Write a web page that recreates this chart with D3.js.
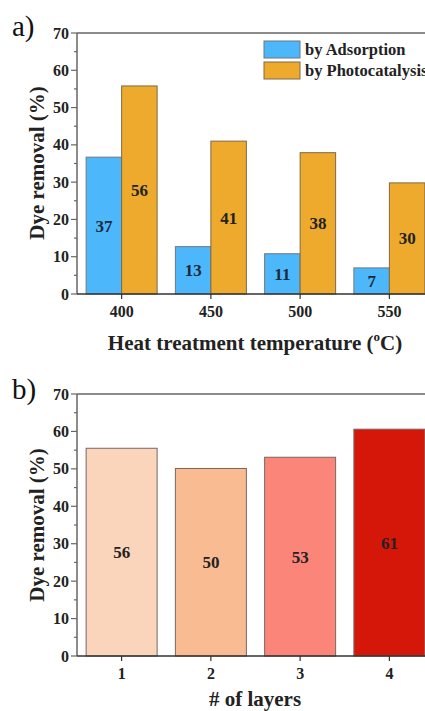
<!DOCTYPE html>
<html><head><meta charset="utf-8">
<script src="https://cdn.jsdelivr.net/npm/d3@7"></script>
<style>body{margin:0;background:#fff}svg{display:block}</style>
</head><body>
<svg id="c" width="425" height="711"></svg>
<script>
const temps = [400, 450, 500, 550];
const adsorption = [36.7, 12.7, 10.8, 7.0];
const photocatalysis = [55.8, 41.0, 37.9, 29.8];
const adsLabels = ["37", "13", "11", "7"];
const photoLabels = ["56", "41", "38", "30"];
const layers = [1, 2, 3, 4];
const layerRemoval = [55.5, 50.1, 53.1, 60.6];
const layerLabels = ["56", "50", "53", "61"];
const layerColors = ["#fbd5bb", "#f9bb91", "#fa8578", "#d5170a"];
const yTicks = [0, 10, 20, 30, 40, 50, 60, 70];
const seriesNames = ["by Adsorption", "by Photocatalysis"];
const seriesColors = ["#4cb8fb", "#eeaa2c"];

const svg = d3.select("#c");
const axisCol = "#666";

function txt(sel) {
  return sel.style("font-family", "Liberation Serif");
}

function yAxis(g, y, x0) {
  const minor = d3.range(0, 71, 5);
  g.selectAll(".mn").data(minor).join("line")
    .attr("x1", x0).attr("x2", d => x0 - (d % 10 === 0 ? 6 : 3))
    .attr("y1", d => y(d)).attr("y2", d => y(d))
    .attr("stroke", axisCol).attr("stroke-width", 1.2);
  txt(g.selectAll(".tl").data(yTicks).join("text")
    .attr("x", x0 - 8).attr("y", d => y(d) + 5.5)
    .attr("text-anchor", "end").attr("font-weight", "bold")
    .attr("font-size", 16).attr("fill", "#222").text(d => d));
}

function frame(g, y, x0, x1) {
  g.append("line").attr("x1", x0).attr("x2", x0).attr("y1", y(0)).attr("y2", y(70))
    .attr("stroke", axisCol).attr("stroke-width", 1.5);
  g.append("line").attr("x1", x0).attr("x2", x1).attr("y1", y(70)).attr("y2", y(70))
    .attr("stroke", axisCol).attr("stroke-width", 1.5);
  g.append("line").attr("x1", x0).attr("x2", x1).attr("y1", y(0)).attr("y2", y(0))
    .attr("stroke", "#333").attr("stroke-width", 1.5);
}

// ---------- Panel a ----------
{
  const g = svg.append("g");
  const x = d3.scaleLinear().domain([375, 575]).range([77, 434]);
  const y = d3.scaleLinear().domain([0, 70]).range([294, 33]);
  const bw = 35.5;
  g.selectAll(".ba").data(temps).join("rect")
    .attr("x", d => x(d) - bw).attr("width", bw)
    .attr("y", (d, i) => y(adsorption[i])).attr("height", (d, i) => y(0) - y(adsorption[i]))
    .attr("fill", seriesColors[0]).attr("stroke", "#6f7780").attr("stroke-width", 1);
  g.selectAll(".bp").data(temps).join("rect")
    .attr("x", d => x(d)).attr("width", bw)
    .attr("y", (d, i) => y(photocatalysis[i])).attr("height", (d, i) => y(0) - y(photocatalysis[i]))
    .attr("fill", seriesColors[1]).attr("stroke", "#7d6a48").attr("stroke-width", 1);
  txt(g.selectAll(".la").data(temps).join("text")
    .attr("x", d => x(d) - bw / 2).attr("y", (d, i) => y(adsorption[i] / 2) + 6)
    .attr("text-anchor", "middle").attr("font-weight", "bold")
    .attr("font-size", 17).attr("fill", "#1a2a3a").text((d, i) => adsLabels[i]));
  txt(g.selectAll(".lp").data(temps).join("text")
    .attr("x", d => x(d) + bw / 2).attr("y", (d, i) => y(photocatalysis[i] / 2) + 6)
    .attr("text-anchor", "middle").attr("font-weight", "bold")
    .attr("font-size", 17).attr("fill", "#222").text((d, i) => photoLabels[i]));
  frame(g, y, 77, 434);
  yAxis(g, y, 77);
  g.selectAll(".xt").data(temps).join("line")
    .attr("x1", d => x(d)).attr("x2", d => x(d)).attr("y1", y(0)).attr("y2", y(0) + 5)
    .attr("stroke", "#333").attr("stroke-width", 1.2);
  txt(g.selectAll(".xl").data(temps).join("text")
    .attr("x", d => x(d)).attr("y", 317).attr("text-anchor", "middle")
    .attr("font-weight", "bold").attr("font-size", 16).attr("fill", "#222").text(d => d));
  // legend
  seriesNames.forEach((s, i) => {
    g.append("rect").attr("x", 264).attr("y", 41 + i * 21).attr("width", 36).attr("height", 17)
      .attr("fill", seriesColors[i]).attr("stroke", i ? "#7d6a48" : "#6f7780");
    txt(g.append("text").attr("x", 305).attr("y", 55 + i * 21)
      .attr("font-weight", "bold").attr("font-size", 16.5).attr("fill", "#222").text(s));
  });
  const xt = txt(g.append("text").attr("x", 255).attr("y", 350).attr("text-anchor", "middle")
    .attr("font-weight", "bold").attr("font-size", 21).attr("fill", "#222"));
  xt.append("tspan").text("Heat treatment temperature (");
  xt.append("tspan").attr("font-size", 13).attr("dy", -9).text("o");
  xt.append("tspan").attr("dy", 9).text("C)");
  txt(g.append("text").attr("transform", "translate(44,163) rotate(-90)").attr("text-anchor", "middle")
    .attr("font-weight", "bold").attr("font-size", 21).attr("fill", "#222").text("Dye removal (%)"));
  txt(g.append("text").attr("x", 12).attr("y", 36).attr("font-size", 29).attr("fill", "#111").text("a)"));
}

// ---------- Panel b ----------
{
  const g = svg.append("g");
  const x = d3.scaleLinear().domain([0.5, 4.5]).range([77, 434]);
  const y = d3.scaleLinear().domain([0, 70]).range([656, 394]);
  const bw = 71;
  g.selectAll(".bl").data(layers).join("rect")
    .attr("x", d => x(d) - bw / 2).attr("width", bw)
    .attr("y", (d, i) => y(layerRemoval[i])).attr("height", (d, i) => y(0) - y(layerRemoval[i]))
    .attr("fill", (d, i) => layerColors[i]).attr("stroke", "#7a6660").attr("stroke-width", 1);
  txt(g.selectAll(".ll").data(layers).join("text")
    .attr("x", d => x(d)).attr("y", (d, i) => y(layerRemoval[i] / 2) + 6)
    .attr("text-anchor", "middle").attr("font-weight", "bold")
    .attr("font-size", 17).attr("fill", "#222").text((d, i) => layerLabels[i]));
  frame(g, y, 77, 434);
  yAxis(g, y, 77);
  g.selectAll(".xt").data(layers).join("line")
    .attr("x1", d => x(d)).attr("x2", d => x(d)).attr("y1", y(0)).attr("y2", y(0) + 5)
    .attr("stroke", "#333").attr("stroke-width", 1.2);
  txt(g.selectAll(".xl").data(layers).join("text")
    .attr("x", d => x(d)).attr("y", 679).attr("text-anchor", "middle")
    .attr("font-weight", "bold").attr("font-size", 16).attr("fill", "#222").text(d => d));
  txt(g.append("text").attr("x", 255).attr("y", 706).attr("text-anchor", "middle")
    .attr("font-weight", "bold").attr("font-size", 21).attr("fill", "#222").text("# of layers"));
  txt(g.append("text").attr("transform", "translate(44,525) rotate(-90)").attr("text-anchor", "middle")
    .attr("font-weight", "bold").attr("font-size", 21).attr("fill", "#222").text("Dye removal (%)"));
  txt(g.append("text").attr("x", 12).attr("y", 399).attr("font-size", 29).attr("fill", "#111").text("b)"));
}
</script>
</body></html>
